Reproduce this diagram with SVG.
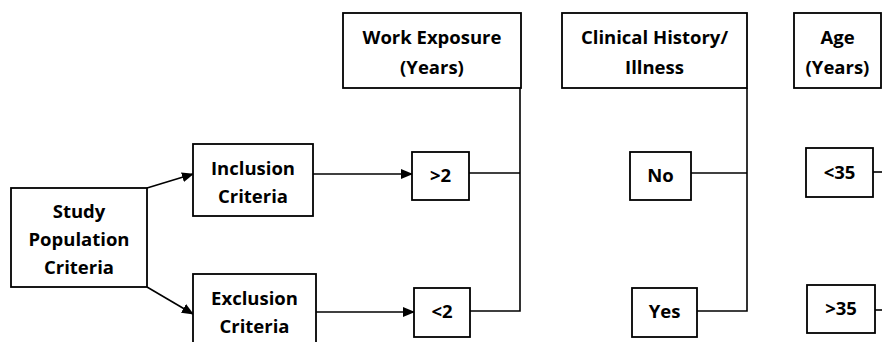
<svg xmlns="http://www.w3.org/2000/svg" width="882" height="342" viewBox="0 0 882 342">
<defs>
<marker id="arr" markerUnits="userSpaceOnUse" markerWidth="12" markerHeight="10" refX="11" refY="5" orient="auto">
<path d="M0,0 L12,5 L0,10 z" fill="#000"/>
</marker>
<style>
.box{fill:#fff;stroke:#000;stroke-width:1.8}
.t{font-family:"Open Sans","Liberation Sans",sans-serif;font-weight:bold;font-size:18.5px;fill:#000;text-anchor:middle}
.c{fill:none;stroke:#000;stroke-width:1.6}
</style>
</defs>
<rect width="882" height="342" fill="#fff"/>
<g id="connectors">
<line class="c" x1="147" y1="188" x2="193" y2="174" marker-end="url(#arr)"/>
<line class="c" x1="147" y1="287" x2="193" y2="314" marker-end="url(#arr)"/>
<line class="c" x1="313" y1="174" x2="412" y2="174" marker-end="url(#arr)"/>
<line class="c" x1="316" y1="312" x2="414" y2="312" marker-end="url(#arr)"/>
<polyline class="c" points="469,173 520,173"/>
<polyline class="c" points="470,311 520,311 520,88"/>
<polyline class="c" points="691,173 747,173"/>
<polyline class="c" points="697,311 747,311 747,88"/>
<line class="c" x1="873" y1="172" x2="882" y2="172"/>
<line class="c" x1="875" y1="310" x2="882" y2="310"/>
</g>
<g id="study">
<rect class="box" x="11" y="188" width="136" height="99"/>
<text class="t" x="79" y="218">Study</text>
<text class="t" x="79" y="246">Population</text>
<text class="t" x="79" y="274">Criteria</text>
</g>
<g id="inclusion">
<rect class="box" x="193" y="144" width="120" height="72"/>
<text class="t" x="253" y="175">Inclusion</text>
<text class="t" x="253" y="203">Criteria</text>
</g>
<g id="exclusion">
<rect class="box" x="193" y="274" width="123" height="80"/>
<text class="t" x="254.5" y="305">Exclusion</text>
<text class="t" x="254.5" y="333">Criteria</text>
</g>
<g id="work-exposure">
<rect class="box" x="343" y="13" width="178" height="75"/>
<text class="t" x="432" y="44">Work Exposure</text>
<text class="t" x="432" y="74">(Years)</text>
</g>
<g id="we-gt2">
<rect class="box" x="412" y="152" width="57" height="48"/>
<text class="t" x="440.5" y="182">&gt;2</text>
</g>
<g id="we-lt2">
<rect class="box" x="414" y="288" width="56" height="49"/>
<text class="t" x="442" y="318">&lt;2</text>
</g>
<g id="clinical">
<rect class="box" x="562" y="13" width="185" height="75"/>
<text class="t" x="654.5" y="44">Clinical History/</text>
<text class="t" x="654.5" y="74">Illness</text>
</g>
<g id="cl-no">
<rect class="box" x="630" y="152" width="61" height="48"/>
<text class="t" x="660.5" y="182">No</text>
</g>
<g id="cl-yes">
<rect class="box" x="632" y="288" width="65" height="49"/>
<text class="t" x="664.5" y="318">Yes</text>
</g>
<g id="age">
<rect class="box" x="794" y="13" width="87" height="75"/>
<text class="t" x="837.5" y="44">Age</text>
<text class="t" x="837.5" y="74">(Years)</text>
</g>
<g id="age-lt35">
<rect class="box" x="806" y="148" width="67" height="49"/>
<text class="t" x="839.5" y="179">&lt;35</text>
</g>
<g id="age-gt35">
<rect class="box" x="807" y="285" width="68" height="48"/>
<text class="t" x="841" y="315">&gt;35</text>
</g>
</svg>
